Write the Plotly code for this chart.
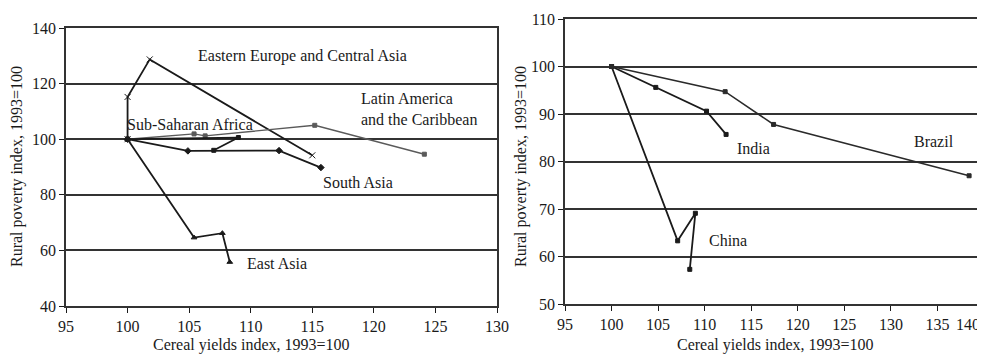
import plotly.graph_objects as go

# ---------------- data: left panel (regions) ----------------
ee_x = [100, 100, 101.8, 115.0]
ee_y = [100, 115.2, 128.7, 94.2]
lac_x = [100, 105.4, 106.3, 115.2, 124.1]
lac_y = [100, 101.9, 101.2, 105.0, 94.6]
ssa_x = [100, 109.0, 107.0]
ssa_y = [100, 100.6, 96.0]
sa_x = [100, 104.9, 112.3, 115.7]
sa_y = [100, 95.8, 95.9, 89.8]
ea_x = [100, 105.4, 107.7, 108.3]
ea_y = [100, 64.6, 66.2, 55.8]

# ---------------- data: right panel (countries) ----------------
china_x = [100, 107.1, 109.0, 108.4]
china_y = [100, 63.3, 69.1, 57.3]
india_x = [100, 104.75, 110.2, 112.3]
india_y = [100, 95.6, 90.6, 85.7]
brazil_x = [100, 112.2, 117.4, 138.4]
brazil_y = [100, 94.7, 87.8, 77.0]

left_xticks = [95, 100, 105, 110, 115, 120, 125, 130]
left_yticks = [40, 60, 80, 100, 120, 140]
right_xticks = [95, 100, 105, 110, 115, 120, 125, 130, 135, 140]
right_yticks = [50, 60, 70, 80, 90, 100, 110]

x_title = "Cereal yields index, 1993=100"
y_title = "Rural poverty index, 1993=100"

FONT = "Liberation Serif"
BLACK = "#1a1a1a"
GRAY = "#5a5a5a"
GRID = "#333333"
FS = 16

# the page body has an 8px margin, so the figure is sized to the remaining window
OFF = 8
W, H = 985 - OFF, 355 - OFF
def fx(p):  # screen pixel x -> paper fraction
    return (p - OFF) / W
def fy(p):  # screen pixel y -> paper fraction
    return 1 - (p - OFF) / H

fig = go.Figure()

def add_line(x, y, name, xa, ya, symbol, color=BLACK, width=1.8, size=4):
    fig.add_trace(go.Scatter(
        x=x, y=y, name=name, xaxis=xa, yaxis=ya, mode="lines+markers",
        line=dict(color=color, width=width),
        marker=dict(symbol=symbol, size=size, color=color,
                    line=dict(color=color, width=1)),
        showlegend=False))

add_line(ee_x, ee_y, "Eastern Europe and Central Asia", "x", "y", "x-thin", width=1.8, size=6)
add_line(lac_x, lac_y, "Latin America and the Caribbean", "x", "y", "square", color=GRAY, width=1.4, size=4)
add_line(ssa_x, ssa_y, "Sub-Saharan Africa", "x", "y", "square", width=1.8, size=4)
add_line(sa_x, sa_y, "South Asia", "x", "y", "diamond", width=1.8, size=5)
add_line(ea_x, ea_y, "East Asia", "x", "y", "triangle-up", width=1.8, size=5)

add_line(china_x, china_y, "China", "x2", "y2", "square", width=1.8, size=4)
add_line(india_x, india_y, "India", "x2", "y2", "square", width=1.8, size=4)
add_line(brazil_x, brazil_y, "Brazil", "x2", "y2", "square", color="#2a2a2a", width=1.5, size=4)

# empty helper trace so the overlay axis carrying the last tick label is drawn
fig.add_trace(go.Scatter(x=[right_xticks[-1]], y=[None], xaxis="x3", yaxis="y2",
                         mode="markers", showlegend=False, hoverinfo="skip"))

tickfont = dict(family=FONT, size=FS, color=BLACK)

axis_common = dict(
    showline=True, linecolor=GRID, linewidth=1.5, mirror=True,
    ticks="outside", ticklen=5, tickcolor=BLACK, tickwidth=1.2,
    tickfont=tickfont, zeroline=False, automargin=False,
)

right_ticktext = [str(v) for v in right_xticks]
right_ticktext[-1] = ""   # last label drawn on overlay axis so it stays inside the page

fig.update_layout(
    width=W, height=H,
    margin=dict(l=0, r=0, t=0, b=0),
    paper_bgcolor="white", plot_bgcolor="white",
    font=dict(family=FONT, size=FS, color=BLACK),
    xaxis=dict(domain=[fx(66), fx(497)], range=[95, 130], tickvals=left_xticks,
               showgrid=False, anchor="y", **axis_common),
    yaxis=dict(domain=[fy(306), fy(28)], range=[40, 140], tickvals=left_yticks,
               showgrid=True, gridcolor=GRID, gridwidth=2, anchor="x", **axis_common),
    xaxis2=dict(domain=[fx(565), fx(984)], range=[95, 140], tickvals=right_xticks,
                ticktext=right_ticktext,
                showgrid=False, anchor="y2", **axis_common),
    xaxis3=dict(domain=[fx(565), fx(984)], range=[95, 140], tickvals=[right_xticks[-1]],
                ticktext=[str(right_xticks[-1])], overlaying="x2", anchor="y2", side="bottom",
                ticklabelposition="outside left", ticklabelshift=-4, ticklabelstandoff=9,
                ticks="", showline=False,
                showgrid=False, zeroline=False, automargin=False, tickfont=tickfont),
    yaxis2=dict(domain=[fy(304), fy(19)], range=[50, 110], tickvals=right_yticks,
                showgrid=True, gridcolor=GRID, gridwidth=2, anchor="x2", **axis_common),
)

lab = dict(family=FONT, size=FS, color=BLACK)
def note(text, x, y, xref, yref, xanchor="center", align="center"):
    fig.add_annotation(text=text, x=x, y=y, xref=xref, yref=yref, showarrow=False,
                       font=lab, xanchor=xanchor, yanchor="middle", align=align)

note("Eastern Europe and Central Asia", 114.2, 129.9, "x", "y")
note("Latin America<br>and the Caribbean", 118.8, 111.0, "x", "y", xanchor="left", align="left")
note("Sub-Saharan Africa", 105.05, 105.4, "x", "y")
note("South Asia", 118.7, 84.5, "x", "y")
note("East Asia", 112.1, 55.4, "x", "y")

note("India", 115.2, 82.8, "x2", "y2")
note("Brazil", 134.6, 84.2, "x2", "y2")
note("China", 112.5, 63.3, "x2", "y2")

# axis titles
for xc in (251, 775):
    fig.add_annotation(text=x_title, x=fx(xc), y=fy(345), xref="paper", yref="paper",
                       showarrow=False, font=lab, xanchor="center", yanchor="middle")
for xc in (17, 521):
    fig.add_annotation(text=y_title, x=fx(xc), y=fy(167), xref="paper", yref="paper",
                       showarrow=False, font=lab, textangle=-90,
                       xanchor="center", yanchor="middle")

fig.write_html("out.html")
